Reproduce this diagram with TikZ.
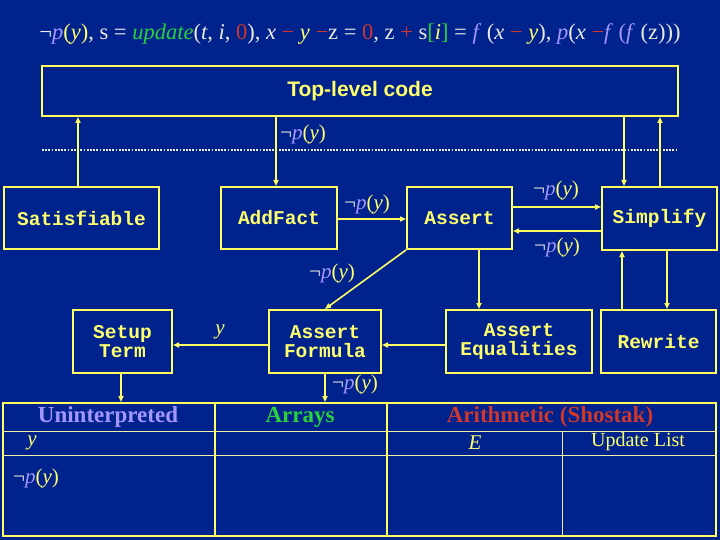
\documentclass[tikz,border=0pt]{standalone}
\usepackage{fontspec}
\setmainfont{Liberation Serif}
\newfontfamily\monof{Liberation Mono}
\newfontfamily\arialf{Liberation Sans}
\usetikzlibrary{arrows.meta}
\definecolor{bgblue}{RGB}{0,34,140}
\definecolor{lnyel}{RGB}{255,255,100}
\definecolor{txyel}{RGB}{255,255,110}
\definecolor{lav}{RGB}{165,150,255}
\definecolor{grn}{RGB}{40,210,60}
\definecolor{redc}{RGB}{205,55,45}
\definecolor{wht}{RGB}{235,235,225}
\definecolor{thinl}{RGB}{240,240,170}
\newcommand\mkW[1]{\textcolor{wht}{#1}}
\newcommand\mkY[1]{\textcolor{txyel}{#1}}
\newcommand\mkL[1]{\textcolor{lav}{#1}}
\newcommand\mkG[1]{\textcolor{grn}{#1}}
\newcommand\mkR[1]{\textcolor{redc}{#1}}
\newcommand\negp{\mkW{¬}\mkL{\textit{p}}\mkY{(\textit{y})}}
\begin{document}
\begin{tikzpicture}[x=1pt,y=-1pt,
  box/.style={draw=lnyel,line width=2pt,text=txyel,font=\monof\bfseries\fontsize{19.5}{19}\selectfont,inner sep=0pt,align=center},
  conn/.style={draw=lnyel,line width=1.6pt,-{Triangle[length=6pt,width=5pt]}},
  lbl/.style={inner sep=0pt,font=\fontsize{21}{21}\selectfont},
  hdr/.style={inner sep=0pt,font=\bfseries\fontsize{23}{23}\selectfont}]
\fill[bgblue] (0,0) rectangle (720,540);
\useasboundingbox (0,0) rectangle (720,540);
% formula
\node[inner sep=0pt,font=\fontsize{22.5}{22.5}\selectfont] (formula) at (360,34) {\negp\mkW{,}\ \mkW{s}\ \mkW{=}\ \mkG{\textit{update}}\mkW{(\textit{t},}\ \mkW{\textit{i},}\ \mkR{0}\mkW{),}\ \mkW{\textit{x}}\ \mkR{−}\ \mkY{\textit{y}}\ \mkR{−}\mkW{z}\ \mkW{=}\ \mkR{0}\mkW{,}\ \mkW{z}\ \mkR{+}\ \mkW{s}\mkG{[}\mkY{\textit{i}}\mkG{]}\ \mkW{=}\ \mkL{\textit{f}}\ \mkW{(\textit{x}}\ \mkR{−}\ \mkY{\textit{y}}\mkW{),}\ \mkL{\textit{p}}\mkW{(\textit{x}}\ \mkR{−}\mkL{\textit{f}}\ \mkL{(\textit{f}}\ \mkW{(z)))}};
% boxes
\node[box,minimum width=636pt,minimum height=50pt,font=\arialf\bfseries\fontsize{21}{21}\selectfont] (top) at (360,91) {Top-level code};
\node[box,minimum width=155pt,minimum height=62pt] (sat) at (81.5,218) {Satisfiable};
\node[box,minimum width=116pt,minimum height=62pt] (add) at (279,218) {AddFact};
\node[box,minimum width=105pt,minimum height=62pt] (ast) at (459.5,218) {Assert};
\node[box,minimum width=115pt,minimum height=63pt] (simp) at (659.5,218.5) {Simplify};
\node[box,minimum width=99pt,minimum height=63pt] (setup) at (122.5,341.5) {Setup\\Term};
\node[box,minimum width=112pt,minimum height=63pt] (form) at (325,341.5) {Assert\\Formula};
\node[box,minimum width=146pt,minimum height=63pt] (eq) at (519,341.5) {Assert\\Equalities};
\node[box,minimum width=115pt,minimum height=63pt] (rw) at (658.5,341.5) {Rewrite};
% table
\node[draw=lnyel,line width=2pt,minimum width=713pt,minimum height=133pt,inner sep=0pt] (tbl) at (359.5,469.5) {};
\draw[thinl,line width=1pt] (3,431) -- (716,431) (3,455) -- (716,455) (562,431) -- (562,536);
\draw[lnyel,line width=2pt] (215,403) -- (215,536) (387,403) -- (387,536);
% dotted line
\draw[wht,line width=2pt,dash pattern=on 1.8pt off 1.4pt] (42,150) -- (678,150);
% helper coordinates
\coordinate (c78) at (78,0);
\coordinate (c276) at (276,0);
\coordinate (c624) at (624,0);
\coordinate (c660) at (660,0);
\coordinate (c479) at (479,0);
\coordinate (c622) at (622,0);
\coordinate (c667) at (667,0);
\coordinate (c121) at (121,0);
\coordinate (r219) at (0,219);
\coordinate (r207) at (0,207);
\coordinate (r231) at (0,231);
\coordinate (r345) at (0,345);
% connectors
\draw[conn] (sat.north -| c78) -- (top.south -| c78);
\draw[conn] (top.south -| c276) -- (add.north -| c276);
\draw[conn] (top.south -| c624) -- (simp.north -| c624);
\draw[conn] (simp.north -| c660) -- (top.south -| c660);
\draw[conn] (add.east |- r219) -- (ast.west |- r219);
\draw[conn] (ast.east |- r207) -- (simp.west |- r207);
\draw[conn] (simp.west |- r231) -- (ast.east |- r231);
\draw[conn] (ast.south west) -- (form.north);
\draw[conn] (ast.south -| c479) -- (eq.north -| c479);
\draw[conn] (rw.north -| c622) -- (simp.south -| c622);
\draw[conn] (simp.south -| c667) -- (rw.north -| c667);
\draw[conn] (form.west |- r345) -- (setup.east |- r345);
\draw[conn] (eq.west |- r345) -- (form.east |- r345);
\draw[conn] (setup.south -| c121) -- (tbl.north -| c121);
\draw[conn] (form.south) -- (tbl.north -| form.south);
% labels
\node[lbl] (l1) at (303,134) {\negp};
\node[lbl] (l2) at (367,204) {\negp};
\node[lbl] (l3) at (556,190) {\negp};
\node[lbl] (l4) at (557,247) {\negp};
\node[lbl] (l5) at (332,273) {\negp};
\node[lbl] (l6) at (355,384) {\negp};
\node[lbl,text=txyel] (ly) at (220,332) {\textit{y}};
% table texts
\node[hdr,text=lav] (hu) at (108,417) {Uninterpreted};
\node[hdr,text=grn] (ha) at (300,417) {Arrays};
\node[hdr,text=redc] (hs) at (550,417) {Arithmetic (Shostak)};
\node[lbl,text=txyel] (ty) at (32,443) {\textit{y}};
\node[lbl,text=txyel] (te) at (475,443) {\textit{E}};
\node[inner sep=0pt,font=\fontsize{20}{20}\selectfont,text=txyel] (tu) at (638,442) {Update List};
\node[lbl] (tp) at (36,478) {\negp};
\end{tikzpicture}
\end{document}
